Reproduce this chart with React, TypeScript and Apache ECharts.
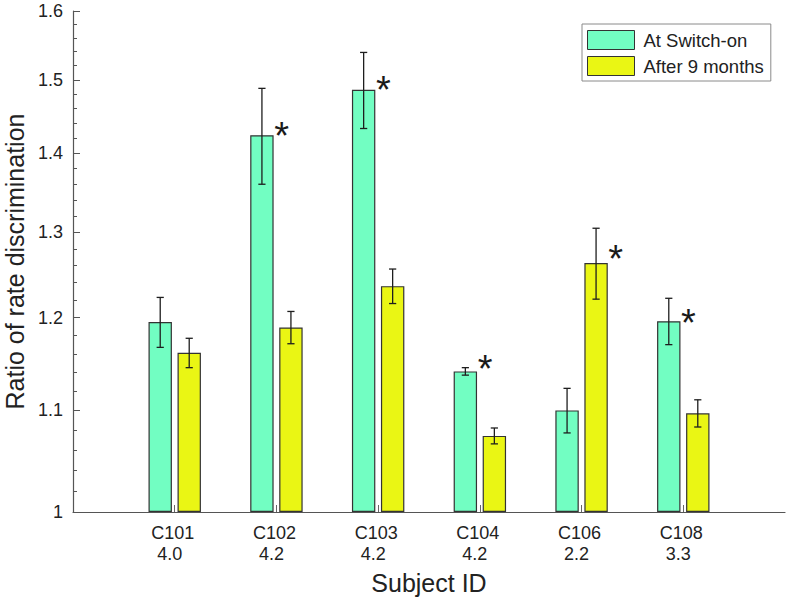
import React, { useEffect, useRef } from "react";
import * as echarts from "echarts";

// ---- data ----
const subjects = ["C101", "C102", "C103", "C104", "C106", "C108"];
const scores = ["4.0", "4.2", "4.2", "4.2", "2.2", "3.3"];
const positions = [1, 2, 3, 4, 5, 6];
const switchOn = [1.195, 1.424, 1.486, 1.141, 1.1, 1.196];
const switchOnErr = [0.028, 0.064, 0.053, 0.004, 0.023, 0.026];
const after9 = [1.161, 1.189, 1.236, 1.074, 1.263, 1.097];
const after9Err = [0.016, 0.018, 0.02, 0.008, 0.042, 0.014];
// level (ratio) at which the significance star is printed, null = none
const switchOnStar = [null, 1.434, 1.4985, 1.1534, null, 1.2042];
const after9Star = [null, null, null, null, 1.2787, null];
const yTicks = [1, 1.1, 1.2, 1.3, 1.4, 1.5, 1.6];
const yMinorTicks = [
  1.02, 1.04, 1.06, 1.08, 1.12, 1.14, 1.16, 1.18, 1.22, 1.24, 1.26, 1.28,
  1.32, 1.34, 1.36, 1.38, 1.42, 1.44, 1.46, 1.48, 1.52, 1.54, 1.56, 1.58,
];
const seriesNames = ["At Switch-on", "After 9 months"];

// ---- styling constants ----
const FONT = "'Liberation Sans', Arial, Helvetica, sans-serif";
const GREEN = "#72FEC2";
const YELLOW = "#EAF614";
const EDGE = "#333333";
const BAR_W = 23.4;
const BAR_OFFSET = 14.5;
const STAR_DX = 8;
const STAR_FS = 38;

const ln = (v: number) => Math.log(v);

export default function App() {
  const ref = useRef<HTMLDivElement>(null);

  useEffect(() => {
    if (!ref.current) return;
    const chart = echarts.init(ref.current, null, { renderer: "svg" });

    const barData = (vals: number[]) => positions.map((p, i) => [p, ln(vals[i])]);
    const errData: number[][] = [];
    positions.forEach((p, i) => {
      errData.push([p, ln(switchOn[i] - switchOnErr[i]), ln(switchOn[i] + switchOnErr[i]), -1]);
      errData.push([p, ln(after9[i] - after9Err[i]), ln(after9[i] + after9Err[i]), 1]);
    });
    const starData: number[][] = [];
    positions.forEach((p, i) => {
      const a = switchOnStar[i];
      if (a != null) starData.push([p, ln(a), -1]);
      const b = after9Star[i];
      if (b != null) starData.push([p, ln(b), 1]);
    });

    const yLabelFmt = (v: number) => String(parseFloat(Math.exp(v).toFixed(2)));

    chart.setOption({
      animation: false,
      textStyle: { fontFamily: FONT },
      grid: {
        left: 73,
        right: 4,
        top: 11,
        bottom: 88,
        containLabel: false,
        outerBoundsMode: "none",
      },
      legend: {
        orient: "vertical",
        left: 582,
        top: 24,
        padding: [6, 7, 5, 5],
        itemWidth: 47,
        itemHeight: 19,
        itemGap: 6,
        borderColor: "#8a8a8a",
        borderWidth: 1,
        icon: "rect",
        data: seriesNames,
        itemStyle: { borderColor: EDGE, borderWidth: 1 },
        textStyle: { fontSize: 18.5, color: "#222", fontFamily: FONT, padding: [0, 0, 0, 4] },
      },
      xAxis: {
        type: "value",
        min: 0,
        max: 7,
        interval: 1,
        splitLine: { show: false },
        axisLine: { show: true, onZero: false, lineStyle: { color: "#555", width: 1.2 } },
        axisTick: {
          show: true,
          inside: true,
          length: 7,
          customValues: positions,
          lineStyle: { color: "#666", width: 1 },
        },
        axisLabel: {
          show: true,
          customValues: positions,
          margin: 10,
          formatter: (v: number) => {
            const i = positions.indexOf(Math.round(v));
            return i < 0 ? "" : `{a|${subjects[i]}}\n{b|${scores[i]}}`;
          },
          rich: {
            a: { fontSize: 18, lineHeight: 21, color: "#222", fontFamily: FONT, padding: [0, 4, 0, 0] },
            b: { fontSize: 18, lineHeight: 21, color: "#222", fontFamily: FONT, padding: [0, 10, 0, 0] },
          },
        },
        name: "Subject ID",
        nameLocation: "middle",
        nameGap: 58,
        nameTextStyle: { fontSize: 25, color: "#222", fontFamily: FONT },
      },
      yAxis: [
        {
          type: "value",
          position: "left",
          min: 0,
          max: ln(1.6),
          splitLine: { show: false },
          axisLine: { show: true, onZero: false, lineStyle: { color: "#555", width: 1.2 } },
          axisTick: {
            show: true,
            inside: true,
            length: 7,
            customValues: yTicks.map(ln),
            lineStyle: { color: "#555", width: 1 },
          },
          axisLabel: {
            show: true,
            customValues: yTicks.map(ln),
            formatter: yLabelFmt,
            fontSize: 18,
            color: "#222",
            margin: 10,
            fontFamily: FONT,
          },
          name: "Ratio of rate discrimination",
          nameLocation: "middle",
          nameGap: 46,
          nameTextStyle: { fontSize: 25, color: "#222", fontFamily: FONT },
        },
        {
          type: "value",
          position: "left",
          min: 0,
          max: ln(1.6),
          splitLine: { show: false },
          axisLine: { show: false },
          axisTick: {
            show: true,
            inside: true,
            length: 4,
            customValues: yMinorTicks.map(ln),
            lineStyle: { color: "#555", width: 1 },
          },
          axisLabel: { show: false },
        },
      ],
      series: [
        {
          name: seriesNames[0],
          type: "bar",
          data: barData(switchOn),
          barWidth: BAR_W,
          barGap: "24%",
          itemStyle: { color: GREEN, borderColor: EDGE, borderWidth: 1.2 },
          z: 2,
        },
        {
          name: seriesNames[1],
          type: "bar",
          data: barData(after9),
          barWidth: BAR_W,
          barGap: "24%",
          itemStyle: { color: YELLOW, borderColor: EDGE, borderWidth: 1.2 },
          z: 2,
        },
        {
          name: "errors",
          type: "custom",
          data: errData,
          encode: { x: 0, y: [1, 2] },
          silent: true,
          z: 5,
          renderItem: (params: any, api: any) => {
            const x = api.value(0);
            const side = api.value(3);
            const pLo = api.coord([x, api.value(1)]);
            const pHi = api.coord([x, api.value(2)]);
            const cx = pLo[0] + side * BAR_OFFSET;
            const st = { stroke: "#1e1e1e", lineWidth: 1.3 };
            const cap = 3.6;
            return {
              type: "group",
              children: [
                { type: "line", shape: { x1: cx, y1: pLo[1], x2: cx, y2: pHi[1] }, style: st },
                { type: "line", shape: { x1: cx - cap, y1: pLo[1], x2: cx + cap, y2: pLo[1] }, style: st },
                { type: "line", shape: { x1: cx - cap, y1: pHi[1], x2: cx + cap, y2: pHi[1] }, style: st },
              ],
            };
          },
        },
        {
          name: "stars",
          type: "custom",
          data: starData,
          encode: { x: 0, y: 1 },
          silent: true,
          z: 6,
          renderItem: (params: any, api: any) => {
            const x = api.value(0);
            const side = api.value(2);
            const p = api.coord([x, api.value(1)]);
            const cx = p[0] + side * BAR_OFFSET + BAR_W / 2 + STAR_DX;
            return {
              type: "text",
              style: {
                text: "*",
                x: cx,
                y: p[1] + 0.23 * STAR_FS,
                fontSize: STAR_FS,
                fontFamily: FONT,
                fill: "#1a1a1a",
                textAlign: "center",
                textVerticalAlign: "middle",
              },
            };
          },
        },
      ],
    });

    return () => chart.dispose();
  }, []);

  return (
    <div
      ref={ref}
      style={{ position: "fixed", left: 0, top: 0, width: 789, height: 600, background: "#fff" }}
    />
  );
}
